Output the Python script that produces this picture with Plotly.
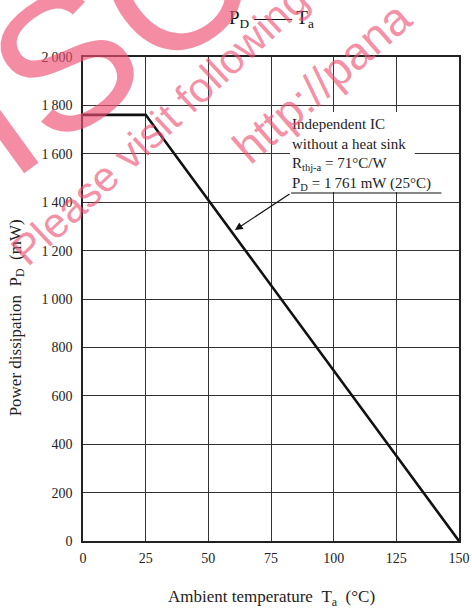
import plotly.graph_objects as go

# Data
temps = [0, 25, 150]
power = [1761, 1761, 0]
x_ticks = [0, 25, 50, 75, 100, 125, 150]
x_labels = ["0", "25", "50", "75", "100", "125", "150"]
y_ticks = [0, 200, 400, 600, 800, 1000, 1200, 1400, 1600, 1800, 2000]
y_labels = ["0", "200", "400", "600", "800", "1\u2009000", "1\u2009200", "1\u2009400",
            "1\u2009600", "1\u2009800", "2\u2009000"]

SERIF = "Liberation Serif"
SANS = "Liberation Sans"
WM = "rgba(238,80,115,0.65)"

fig = go.Figure()
fig.add_trace(go.Scatter(x=temps, y=power, mode="lines",
                         line=dict(color="#111", width=2.6), showlegend=False,
                         hoverinfo="skip"))

grid = "#333"
fig.update_xaxes(range=[0, 150], tickvals=x_ticks, ticktext=x_labels,
                 showgrid=True, gridcolor=grid, gridwidth=1, automargin=False,
                 showline=True, linecolor="#222", linewidth=1.6, mirror=True,
                 ticks="outside", ticklen=3, tickcolor="rgba(0,0,0,0)", zeroline=False,
                 tickfont=dict(family=SERIF, size=14, color="#222"))
fig.update_yaxes(range=[0, 2000], tickvals=y_ticks, ticktext=y_labels,
                 showgrid=True, gridcolor=grid, gridwidth=1, automargin=False,
                 showline=True, linecolor="#222", linewidth=1.6, mirror=True,
                 ticks="outside", ticklen=6, tickcolor="rgba(0,0,0,0)", zeroline=False,
                 tickfont=dict(family=SERIF, size=14, color="#222"))

# White background behind the note (above grid/curve)
fig.add_shape(type="rect", x0=82.6, x1=132.4, y0=1442, y1=1773, xref="x", yref="y",
              layer="above", line=dict(width=0), fillcolor="white")
fig.add_shape(type="rect", x0=82.6, x1=143.2, y0=1442, y1=1550, xref="x", yref="y",
              layer="above", line=dict(width=0), fillcolor="white")
# Leader underline and arrow
fig.add_shape(type="line", x0=83, x1=143, y0=1438, y1=1438, xref="x", yref="y",
              layer="above", line=dict(color="#111", width=1.2))
fig.add_annotation(x=60.6, y=1285, ax=83, ay=1438, xref="x", yref="y",
                   axref="x", ayref="y", text="", showarrow=True,
                   arrowhead=2, arrowsize=1.3, arrowwidth=1.2, arrowcolor="#111")

# Note text
fig.add_annotation(x=83, y=1762, xref="x", yref="y", xanchor="left", yanchor="top",
                   align="left", showarrow=False, borderpad=0,
                   text="Independent IC<br>without a heat sink<br>"
                        "R<sub>thj-a</sub> = 71°C/W<br>P<sub>D</sub> = 1\u2009761 mW (25°C)",
                   font=dict(family=SERIF, size=15, color="#222"))

# Titles
fig.add_annotation(x=0.5, y=1.0, xref="paper", yref="paper", yshift=38,
                   xanchor="center", yanchor="middle", showarrow=False,
                   text="P<sub>D</sub> \u2014\u2014 T<sub>a</sub>",
                   font=dict(family=SERIF, size=19, color="#111"))
fig.add_annotation(x=0.5, y=0, xref="paper", yref="paper", yshift=-57,
                   xanchor="center", yanchor="middle", showarrow=False,
                   text="Ambient temperature\u00a0\u00a0T<sub>a</sub>\u00a0\u00a0(°C)",
                   font=dict(family=SERIF, size=17, color="#222"))
fig.add_annotation(x=0, y=0.46, xref="paper", yref="paper", xshift=-66,
                   xanchor="center", yanchor="middle", showarrow=False, textangle=-90,
                   text="Power dissipation\u00a0\u00a0P<sub>D</sub>\u00a0\u00a0(mW)",
                   font=dict(family=SERIF, size=17, color="#222"))

# Watermark
fig.add_annotation(x=0.043, y=1.041, xref="paper", yref="paper", showarrow=False,
                   xanchor="center", yanchor="middle",
                   textangle=-36, text="ISC",
                   font=dict(family=SANS, size=190, color=WM))
fig.add_annotation(x=0.205, y=0.86, xref="paper", yref="paper", showarrow=False,
                   xanchor="center", yanchor="middle",
                   textangle=-43, text="Please visit following",
                   font=dict(family=SANS, size=42, color=WM))
fig.add_annotation(x=0.636, y=0.948, xref="paper", yref="paper", showarrow=False,
                   xanchor="center", yanchor="middle",
                   textangle=-41, text="http://pana",
                   font=dict(family=SANS, size=46, color=WM))

fig.update_layout(width=472, height=610, margin=dict(l=83, r=13, t=57, b=69),
                  plot_bgcolor="white", paper_bgcolor="white", showlegend=False)

fig.write_html("out.html", config={"displayModeBar": False},
               post_script="document.body.style.margin='0';")
